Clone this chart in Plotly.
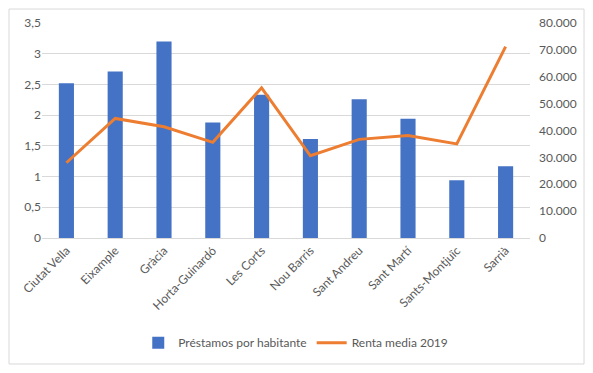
import plotly.graph_objects as go

districts = ["Ciutat Vella", "Eixample", "Gràcia", "Horta-Guinardó", "Les Corts",
             "Nou Barris", "Sant Andreu", "Sant Martí", "Sants-Montjuïc", "Sarrià"]
prestamos = [2.52, 2.71, 3.20, 1.88, 2.33, 1.61, 2.26, 1.94, 0.94, 1.17]
renta = [28000, 44500, 41400, 35600, 55900, 30600, 36700, 38100, 35000, 71200]

left_ticks = [0, 0.5, 1, 1.5, 2, 2.5, 3, 3.5]
left_labels = ["0", "0,5", "1", "1,5", "2", "2,5", "3", "3,5"]
right_ticks = [0, 10000, 20000, 30000, 40000, 50000, 60000, 70000, 80000]
right_labels = ["0", "10.000", "20.000", "30.000", "40.000", "50.000", "60.000", "70.000", "80.000"]

FONT = "Lato"
GRAY = "#595959"

fig = go.Figure()
fig.add_trace(go.Bar(x=districts, y=prestamos, name="Préstamos por habitante",
                     marker=dict(color="#4472C4", line=dict(width=0)), width=0.31,
                     yaxis="y"))
fig.add_trace(go.Scatter(x=districts, y=renta, name="Renta media 2019", mode="lines",
                         line=dict(color="#ED7D31", width=3), yaxis="y2"))

fig.update_layout(
    width=577, height=357,
    margin=dict(l=34, r=55, t=15, b=127, autoexpand=False),
    paper_bgcolor="white", plot_bgcolor="white",
    font=dict(family=FONT, size=12, color=GRAY),
    showlegend=True,
    legend=dict(orientation="h", x=0.52, xanchor="center", y=-0.42, yanchor="top",
                font=dict(family=FONT, size=12, color=GRAY), itemwidth=30,
                traceorder="normal"),
    xaxis=dict(tickangle=-45, showgrid=False, showline=True, linecolor="#d9d9d9",
               ticks="", automargin=False, tickfont=dict(family=FONT, size=12, color=GRAY)),
    yaxis=dict(range=[0, 3.5], tickvals=left_ticks, ticktext=left_labels, automargin=False,
               showgrid=True, gridcolor="#d9d9d9", zeroline=False, ticks="",
               tickfont=dict(family=FONT, size=12, color=GRAY)),
    yaxis2=dict(range=[0, 80000], tickvals=right_ticks, ticktext=right_labels, automargin=False,
                overlaying="y", side="right", showgrid=False, zeroline=False, ticks="",
                ticklabelstandoff=8,
                tickfont=dict(family=FONT, size=12, color=GRAY)),
    shapes=[dict(type="rect", xref="paper", yref="paper",
                 x0=-0.0676, x1=1.1107, y0=-0.586, y1=1.065,
                 line=dict(color="#d9d9d9", width=1), fillcolor="rgba(0,0,0,0)",
                 layer="below")],
)

fig.write_html("out.html")
